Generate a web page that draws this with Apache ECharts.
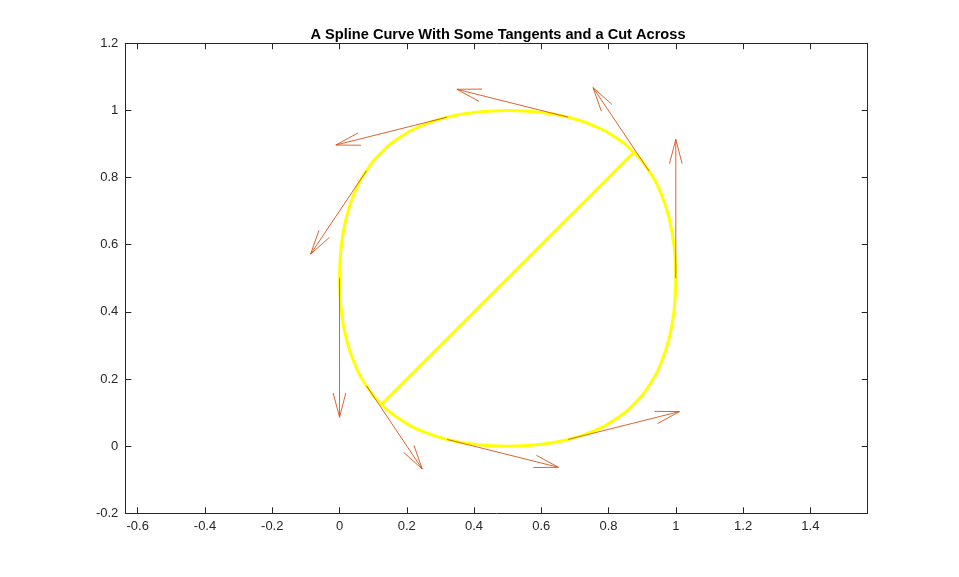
<!DOCTYPE html>
<html>
<head>
<meta charset="utf-8">
<script src="https://cdn.jsdelivr.net/npm/echarts@6/dist/echarts.min.js"></script>
<style>
html,body{margin:0;padding:0;background:#fff;}
#chart{width:959px;height:577px;}
</style>
</head>
<body>
<div id="chart"></div>
<script>
// Spline curve points (closed loop, counter-clockwise, starting at right side)
const curveX = [1, 0.995, 0.98, 0.955, 0.92, 0.875, 0.82, 0.755, 0.68, 0.595,
  0.5, 0.405, 0.32, 0.245, 0.18, 0.125, 0.08, 0.045, 0.02, 0.005,
  0, 0.005, 0.02, 0.045, 0.08, 0.125, 0.18, 0.245, 0.32, 0.405,
  0.5, 0.595, 0.68, 0.755, 0.82, 0.875, 0.92, 0.955, 0.98, 0.995,
  1, 0.995];
const curveY = [0.5, 0.595, 0.68, 0.755, 0.82, 0.875, 0.92, 0.955, 0.98, 0.995,
  1, 0.995, 0.98, 0.955, 0.92, 0.875, 0.82, 0.755, 0.68, 0.595,
  0.5, 0.405, 0.32, 0.245, 0.18, 0.125, 0.08, 0.045, 0.02, 0.005,
  0, 0.005, 0.02, 0.045, 0.08, 0.125, 0.18, 0.245, 0.32, 0.405,
  0.5, 0.595];

// Tangent arrows: base points and vector components
const tanX = [1, 0.92, 0.68, 0.32, 0.08, 0, 0.08, 0.32, 0.68];
const tanY = [0.5, 0.82, 0.98, 0.98, 0.82, 0.5, 0.18, 0.02, 0.02];
const tanU = [0, -0.166, -0.331, -0.331, -0.166, 0, 0.166, 0.331, 0.331];
const tanV = [0.414, 0.248, 0.083, -0.083, -0.248, -0.414, -0.248, -0.083, 0.083];

// The cut across
const cutX = [0.125, 0.875];
const cutY = [0.125, 0.875];

// Ticks
const xTicks = [-0.6, -0.4, -0.2, 0, 0.2, 0.4, 0.6, 0.8, 1, 1.2, 1.4];
const yTicks = [-0.2, 0, 0.2, 0.4, 0.6, 0.8, 1, 1.2];
const xMin = -0.637, xMax = 1.5706, yMin = -0.2, yMax = 1.2;

const axisColor = '#262626';
const fontFamily = '"Liberation Sans", Arial, Helvetica, sans-serif';
const fmt = v => String(Math.round(v * 10) / 10);

function mkX(pos, showLabel) {
  return {
    type: 'value', position: pos, min: xMin, max: xMax,
    axisLine: {show: true, onZero: false, lineStyle: {color: axisColor, width: 1}},
    axisTick: {show: true, inside: true, length: 6, customValues: xTicks, lineStyle: {color: axisColor}},
    axisLabel: {show: showLabel, customValues: xTicks, formatter: fmt, color: axisColor,
      fontSize: 13, fontFamily: fontFamily, margin: 7},
    splitLine: {show: false}
  };
}
function mkY(pos, showLabel) {
  return {
    type: 'value', position: pos, min: yMin, max: yMax,
    axisLine: {show: true, onZero: false, lineStyle: {color: axisColor, width: 1}},
    axisTick: {show: true, inside: true, length: 6, customValues: yTicks, lineStyle: {color: axisColor}},
    axisLabel: {show: showLabel, customValues: yTicks, formatter: fmt, color: axisColor,
      fontSize: 13, fontFamily: fontFamily, margin: 7},
    splitLine: {show: false}
  };
}

const curveData = curveX.map((x, i) => [x, curveY[i]]);
const cutData = cutX.map((x, i) => [x, cutY[i]]);
const tanData = tanX.map((x, i) => [x, tanY[i], tanU[i], tanV[i]]);

const chart = echarts.init(document.getElementById('chart'), null, {renderer: 'canvas'});
chart.setOption({
  animation: false,
  backgroundColor: '#ffffff',
  title: {
    text: 'A Spline Curve With Some Tangents and a Cut Across',
    left: 493, top: 22, textAlign: 'center',
    textStyle: {fontSize: 14.6, fontWeight: 'bold', color: '#000', fontFamily: fontFamily}
  },
  grid: {left: 125.3, top: 43.3, width: 742.4, height: 470, containLabel: false},
  xAxis: [mkX('bottom', true), mkX('top', false)],
  yAxis: [mkY('left', true), mkY('right', false)],
  series: [
    {
      type: 'line', data: curveData, smooth: 0.5, showSymbol: false, symbol: 'none',
      lineStyle: {color: '#ffff00', width: 3}, z: 2
    },
    {
      type: 'line', data: cutData, showSymbol: false, symbol: 'none',
      lineStyle: {color: '#ffff00', width: 3}, z: 2
    },
    {
      type: 'custom', z: 3,
      data: tanData,
      renderItem: function (params, api) {
        const x0 = api.value(0), y0 = api.value(1), u = api.value(2), v = api.value(3);
        const p0 = api.coord([x0, y0]);
        const p1 = api.coord([x0 + u, y0 + v]);
        const dx = p1[0] - p0[0], dy = p1[1] - p0[1];
        const L = Math.sqrt(dx * dx + dy * dy);
        const bx = -dx / L, by = -dy / L;   // back direction
        const px = -by, py = bx;            // perpendicular
        const back = 24.3, half = 6.3;
        const h1 = [p1[0] + bx * back + px * half, p1[1] + by * back + py * half];
        const h2 = [p1[0] + bx * back - px * half, p1[1] + by * back - py * half];
        const style = {stroke: '#D95319', lineWidth: 0.9, fill: null};
        return {
          type: 'group',
          children: [
            {type: 'polyline', shape: {points: [p0, p1]}, style: style},
            {type: 'polyline', shape: {points: [h1, p1, h2]}, style: style}
          ]
        };
      }
    }
  ]
});
</script>
</body>
</html>
